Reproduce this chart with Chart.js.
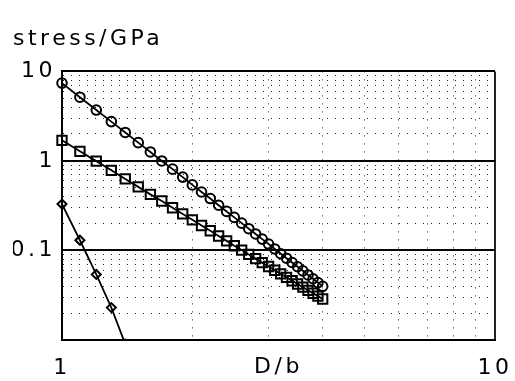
<!DOCTYPE html>
<html>
<head>
<meta charset="utf-8">
<script src="https://cdn.jsdelivr.net/npm/chart.js@4"></script>
<style>
  body { margin: 0; background: #fff; }
  #wrap { width: 515px; height: 381px; }
</style>
</head>
<body>
<div id="wrap"><canvas id="chart"></canvas></div>
<script>
// D/b values (x) and stress in GPa (y)
const dbValues = [1.0, 1.1, 1.2, 1.3, 1.4, 1.5, 1.6, 1.7, 1.8, 1.9, 2.0,
                  2.1, 2.2, 2.3, 2.4, 2.5, 2.6, 2.7, 2.8, 2.9, 3.0,
                  3.1, 3.2, 3.3, 3.4, 3.5, 3.6, 3.7, 3.8, 3.9, 4.0];
const circleStress = [7.4, 5.15, 3.7, 2.75, 2.08, 1.6, 1.26, 1.0, 0.81, 0.66, 0.54,
                      0.45, 0.38, 0.32, 0.273, 0.234, 0.202, 0.175, 0.153, 0.134, 0.118,
                      0.104, 0.092, 0.082, 0.0734, 0.0658, 0.0591, 0.0533, 0.0483, 0.0437, 0.0398];
const squareStress = [1.7, 1.28, 0.995, 0.785, 0.63, 0.513, 0.423, 0.357, 0.3, 0.256, 0.22,
                      0.19, 0.166, 0.145, 0.128, 0.113, 0.101, 0.0903, 0.0811, 0.0731, 0.0662,
                      0.0601, 0.0548, 0.0501, 0.0459, 0.0422, 0.0389, 0.0359, 0.0333, 0.0309, 0.0287];
const diamondDb = [1.0, 1.1, 1.2, 1.3, 1.4];
const diamondStress = [0.33, 0.13, 0.054, 0.023, 0.009];

const xTicks = [1, 2, 3, 4, 5, 6, 7, 8, 9, 10];
const xLabels = [1, 10];
const yTicks = [0.01, 0.02, 0.03, 0.04, 0.05, 0.06, 0.07, 0.08, 0.09,
                0.1, 0.2, 0.3, 0.4, 0.5, 0.6, 0.7, 0.8, 0.9,
                1, 2, 3, 4, 5, 6, 7, 8, 9, 10];
const yLabels = [10, 1, 0.1];
const ySolid = [10, 1, 0.1];

function points(xs, ys) {
    return xs.map((x, i) => ({x: x, y: ys[i]}));
}

// the picture uses a wide lettering, so space the letters out
const spacing = {
    id: 'spacing',
    beforeLayout(chart) { chart.ctx.letterSpacing = '3.5px'; },
    beforeDraw(chart) { chart.ctx.letterSpacing = '3.5px'; }
};

Chart.defaults.font.family = 'DejaVu Sans';
Chart.defaults.font.size = 22;
Chart.defaults.color = '#000';

const series = (data, style, radius) => ({
    data: data,
    borderColor: '#000',
    borderWidth: 1.8,
    pointStyle: style,
    pointRadius: radius,
    pointHoverRadius: radius,
    pointBorderWidth: 2,
    pointBorderColor: '#000',
    pointBackgroundColor: 'rgba(0,0,0,0)',
    tension: 0,
    clip: false
});

const diamonds = series(points(diamondDb, diamondStress), 'rectRot', 4.5);
diamonds.clip = {left: 10, top: 10, right: 10, bottom: 0};

new Chart(document.getElementById('chart'), {
    type: 'line',
    data: {
        datasets: [
            series(points(dbValues, circleStress), 'circle', 4.8),
            series(points(dbValues, squareStress), 'rect', 6.6),
            diamonds
        ]
    },
    plugins: [spacing],
    options: {
        responsive: true,
        maintainAspectRatio: false,
        animation: false,
        events: [],
        layout: {padding: {left: 13, right: 20, top: 0, bottom: 0}},
        plugins: {
            legend: {display: false},
            tooltip: {enabled: false},
            title: {
                display: true,
                text: 'stress/GPa',
                align: 'start',
                color: '#000',
                font: {size: 22, weight: 'normal'},
                padding: {top: 26, bottom: 19}
            }
        },
        scales: {
            x: {
                type: 'logarithmic',
                min: 1,
                max: 10,
                afterBuildTicks: (scale) => { scale.ticks = xTicks.map(v => ({value: v})); },
                afterFit: (scale) => {
                    scale.height = 41;
                    scale.paddingLeft = 0;
                    scale.paddingRight = 0;
                },
                ticks: {
                    autoSkip: false,
                    maxRotation: 0,
                    padding: 15,
                    callback: (v) => xLabels.includes(v) ? String(v) : ''
                },
                grid: {
                    drawTicks: false,
                    color: '#222',
                    lineWidth: (ctx) => ctx.tick && ctx.tick.value === 10 ? 2 : 1
                },
                border: {
                    color: '#000',
                    width: 2,
                    dash: (ctx) => (!ctx.tick || ctx.tick.value === 10) ? [] : [1, 7]
                },
                title: {
                    display: true,
                    text: 'D/b',
                    padding: {top: 0, bottom: 1}
                }
            },
            y: {
                type: 'logarithmic',
                min: 0.01,
                max: 10,
                afterBuildTicks: (scale) => { scale.ticks = yTicks.map(v => ({value: v})); },
                afterFit: (scale) => { scale.width = 49; },
                ticks: {
                    autoSkip: false,
                    padding: 6,
                    callback: (v) => yLabels.includes(v) ? String(v) : ''
                },
                grid: {
                    drawTicks: false,
                    color: (ctx) => ctx.tick && ySolid.includes(ctx.tick.value) ? '#000' : '#222',
                    lineWidth: (ctx) => ctx.tick && ySolid.includes(ctx.tick.value) ? 2 : 1
                },
                border: {
                    color: '#000',
                    width: 2,
                    dash: (ctx) => (!ctx.tick || ySolid.includes(ctx.tick.value)) ? [] : [1, 7]
                }
            }
        }
    }
});
</script>
</body>
</html>
